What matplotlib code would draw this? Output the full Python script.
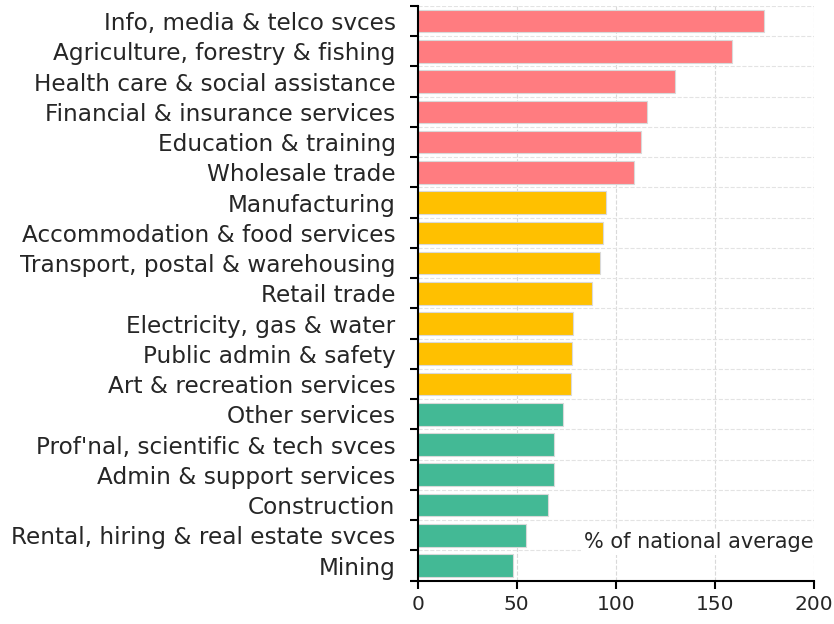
import matplotlib
matplotlib.use('Agg')
import matplotlib.pyplot as plt
import numpy as np

# industries, top to bottom as shown
industries = ['Info, media & telco svces', 'Agriculture, forestry & fishing',
              'Health care & social assistance', 'Financial & insurance services',
              'Education & training', 'Wholesale trade', 'Manufacturing',
              'Accommodation & food services', 'Transport, postal & warehousing',
              'Retail trade', 'Electricity, gas & water', 'Public admin & safety',
              'Art & recreation services', 'Other services',
              "Prof'nal, scientific & tech svces", 'Admin & support services',
              'Construction', 'Rental, hiring & real estate svces', 'Mining']
pct_of_avg = [174.7, 159.0, 129.9, 115.6, 112.8, 109.1, 94.9, 93.4, 92.2, 87.9,
              78.3, 77.8, 77.3, 73.3, 69.0, 68.6, 65.8, 54.9, 48.0]
group = ['high'] * 6 + ['mid'] * 7 + ['low'] * 6
x_ticks = [0, 50, 100, 150, 200]

colours = {'high': '#FF7C80', 'mid': '#FFC000', 'low': '#43B995'}

plt.rcParams['font.family'] = ['DejaVu Sans']

fig = plt.figure(figsize=(8.34, 6.24), dpi=100)
ax = fig.add_axes([0.501, 0.0694, 0.4745, 0.921])

n = len(industries)
ypos = np.arange(n)
ax.barh(ypos, pct_of_avg, height=0.75, color=[colours[g] for g in group],
        edgecolor='#D9D9D9', linewidth=0.8, zorder=2)

ax.set_ylim(n - 0.5, -0.5)
ax.set_xlim(0, 200)

# labels centred on bars, ticks on the category boundaries
ax.set_yticks(ypos)
ax.set_yticklabels(industries, fontsize=16.7, color='#262626')
ax.tick_params(axis='y', which='major', length=0, pad=16)
ax.set_yticks(np.arange(n + 1) - 0.5, minor=True)
ax.tick_params(axis='y', which='minor', length=6, width=1.5, color='black')

ax.set_xticks(x_ticks)
ax.tick_params(axis='x', length=6, width=1.5, labelsize=14.5, labelcolor='#262626', pad=4)

ax.grid(True, axis='x', which='major', color='#D9D9D9', linestyle='--', linewidth=0.8, zorder=0)
ax.grid(True, axis='y', which='minor', color='#E3E3E3', linestyle='--', linewidth=0.8, zorder=0)
ax.set_axisbelow(True)

for s in ['top', 'right']:
    ax.spines[s].set_visible(False)
for s in ['left', 'bottom']:
    ax.spines[s].set_linewidth(1.5)
    ax.spines[s].set_color('black')

ax.text(1.0, 0.067, '% of national average', transform=ax.transAxes, ha='right', va='center',
        fontsize=15, color='#262626', zorder=3,
        bbox=dict(facecolor='white', edgecolor='none', pad=2))

fig.savefig('out.png', dpi=100)
